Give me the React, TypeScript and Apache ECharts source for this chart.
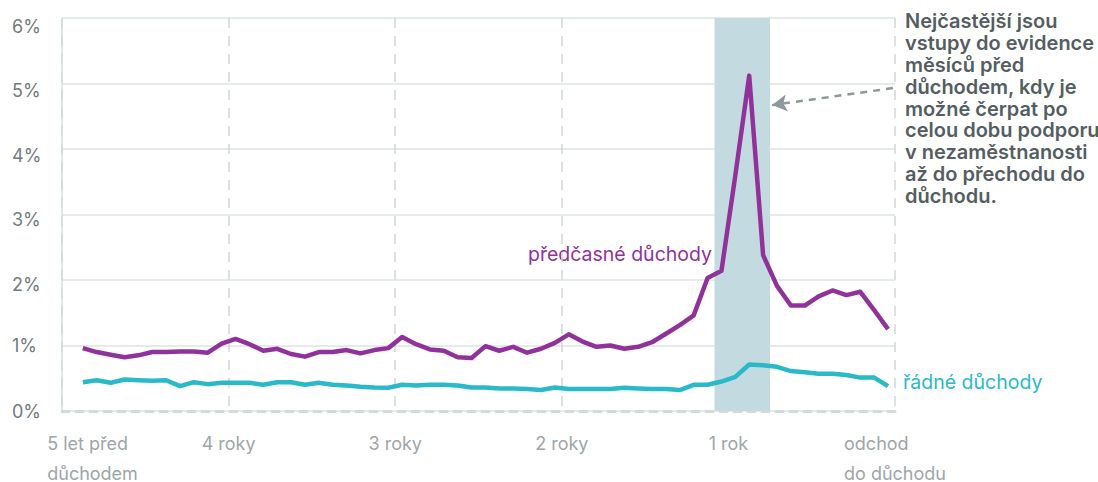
import React, { useEffect, useRef } from 'react';
import * as echarts from 'echarts';

// Monthly observations (share in %), from 5 years before retirement up to retirement
const predcasne = [
  0.96, 0.9, 0.86, 0.82, 0.85, 0.9, 0.9, 0.91, 0.91, 0.89,
  1.03, 1.1, 1.02, 0.92, 0.95, 0.87, 0.83, 0.9, 0.9, 0.93,
  0.88, 0.93, 0.96, 1.13, 1.02, 0.94, 0.92, 0.82, 0.81, 0.99,
  0.92, 0.98, 0.89, 0.95, 1.04, 1.17, 1.06, 0.98, 1.0, 0.95,
  0.98, 1.05, 1.18, 1.31, 1.46, 2.03, 2.14, 3.6, 5.12, 2.38,
  1.91, 1.61, 1.61, 1.75, 1.84, 1.77, 1.82, 1.54, 1.25,
];
const radne = [
  0.44, 0.47, 0.43, 0.48, 0.47, 0.46, 0.47, 0.38, 0.44, 0.41,
  0.43, 0.43, 0.43, 0.4, 0.44, 0.44, 0.4, 0.43, 0.4, 0.39,
  0.37, 0.36, 0.355, 0.4, 0.39, 0.4, 0.4, 0.39, 0.36, 0.36,
  0.345, 0.345, 0.335, 0.32, 0.36, 0.335, 0.335, 0.335, 0.335, 0.355,
  0.345, 0.335, 0.335, 0.32, 0.4, 0.4, 0.45, 0.52, 0.71, 0.7,
  0.675, 0.61, 0.59, 0.57, 0.57, 0.55, 0.51, 0.51, 0.38,
];
// first observed month (0 = five years before retirement), months are consecutive
const firstMonth = 1.5;

const xLabelPos = [2.2, 12, 24, 36, 48, 60];
const xLabels = ['5 let před\ndůchodem', '4 roky', '3 roky', '2 roky', '1 rok', 'odchod\ndo důchodu'];
const yTicks = [0, 1, 2, 3, 4, 5, 6];
const highlight = [47, 51];
const arrowFrom = [59.85, 4.93];
const arrowTo = [51.15, 4.67];

const seriesNames = ['předčasné důchody', 'řádné důchody'];
const annotation = [
  'Nejčastější jsou',
  'vstupy do evidence 11',
  'měsíců před',
  'důchodem, kdy je',
  'možné čerpat po',
  'celou dobu podporu',
  'v nezaměstnanosti',
  'až do přechodu do',
  'důchodu.',
];

// layout: downward shift (px) of each y tick label, index = tick value
const yLabelShift = [0, 0, 4, 5, 6, 7, 8];

const PURPLE = '#91329b';
const TEAL = '#2ab9c8';
const FONT = 'Inter, "Noto Sans", sans-serif';

export default function App() {
  const ref = useRef<HTMLDivElement>(null);
  useEffect(() => {
    if (!ref.current) return;
    const chart = echarts.init(ref.current, undefined, { renderer: 'svg' });
    const toPairs = (arr: number[]) => arr.map((v, i) => [firstMonth + i, v]);
    const yRich: Record<string, any> = {};
    yTicks.forEach((t) => {
      yRich['y' + t] = {
        fontSize: 18,
        color: '#727b7e',
        fontFamily: FONT,
        align: 'left',
        padding: [yLabelShift[t] * 2, 0, 0, 0],
      };
    });
    chart.setOption({
      animation: false,
      backgroundColor: '#ffffff',
      textStyle: { fontFamily: FONT },
      grid: { left: 62, right: 203, top: 18, bottom: 70, containLabel: false },
      xAxis: {
        type: 'value',
        min: 0,
        max: 60,
        interval: 12,
        axisLine: { show: true, onZero: false, lineStyle: { color: '#d3dadc', width: 3, type: [7, 7] } },
        axisTick: { show: false },
        splitLine: { show: true, lineStyle: { color: '#cfd6d8', width: 1.5, type: [10, 8] } },
        axisLabel: {
          customValues: xLabelPos,
          margin: 17,
          formatter: (v: number) => {
            let k = -1;
            let best = 1e9;
            xLabelPos.forEach((p, i) => {
              const d = Math.abs(p - v);
              if (d < best) { best = d; k = i; }
            });
            if (k < 0 || best > 1) return '';
            return xLabels[k].split('\n').map((l) => `{l|${l}}`).join('\n');
          },
          rich: {
            l: { align: 'left', fontSize: 18, lineHeight: 30, color: '#9da6a8', fontFamily: FONT },
          },
        },
      },
      yAxis: {
        type: 'value',
        min: yTicks[0],
        max: yTicks[yTicks.length - 1],
        interval: 1,
        axisLine: { show: true, lineStyle: { color: '#d6dddf', width: 1.5 } },
        axisTick: { show: false },
        splitLine: { show: true, lineStyle: { color: '#dde3e4', width: 1.5 } },
        axisLabel: {
          formatter: (v: number) => `{y${Math.round(v)}|${v}%}`,
          align: 'left',
          margin: 50,
          fontSize: 18,
          color: '#727b7e',
          fontFamily: FONT,
          rich: yRich,
        },
      },
      series: [
        {
          name: seriesNames[0],
          type: 'line',
          data: toPairs(predcasne),
          showSymbol: false,
          symbol: 'none',
          lineStyle: { color: PURPLE, width: 4.5, join: 'round' },
          z: 5,
          markArea: {
            silent: true,
            itemStyle: { color: '#c3dbe0' },
            data: [[{ xAxis: highlight[0] }, { xAxis: highlight[1] }]],
          },
          markLine: {
            silent: true,
            symbol: ['none', 'arrow'],
            symbolSize: [13, 15],
            label: { show: false },
            lineStyle: { color: '#8e979a', width: 2.5, type: [7, 6] },
            data: [[{ coord: arrowFrom }, { coord: arrowTo }]],
          },
        },
        {
          name: seriesNames[1],
          type: 'line',
          data: toPairs(radne),
          showSymbol: false,
          symbol: 'none',
          lineStyle: { color: TEAL, width: 4.5, join: 'round' },
          z: 4,
        },
      ],
      graphic: [
        {
          type: 'text',
          right: 1098 - 712,
          top: 244,
          style: { text: seriesNames[0], fill: PURPLE, fontSize: 19.5, fontFamily: FONT },
        },
        {
          type: 'text',
          left: 903,
          top: 372,
          style: { text: seriesNames[1], fill: TEAL, fontSize: 19.5, fontFamily: FONT },
        },
        {
          type: 'text',
          left: 905,
          top: 10,
          style: {
            text: annotation.join('\n'),
            fill: '#545e62',
            fontSize: 20,
            fontWeight: 600,
            lineHeight: 21.9,
            fontFamily: FONT,
          },
        },
      ],
    });
    return () => chart.dispose();
  }, []);
  return (
    <div
      ref={ref}
      style={{ position: 'fixed', left: 0, top: 0, width: 1098, height: 482, background: '#fff' }}
    />
  );
}
